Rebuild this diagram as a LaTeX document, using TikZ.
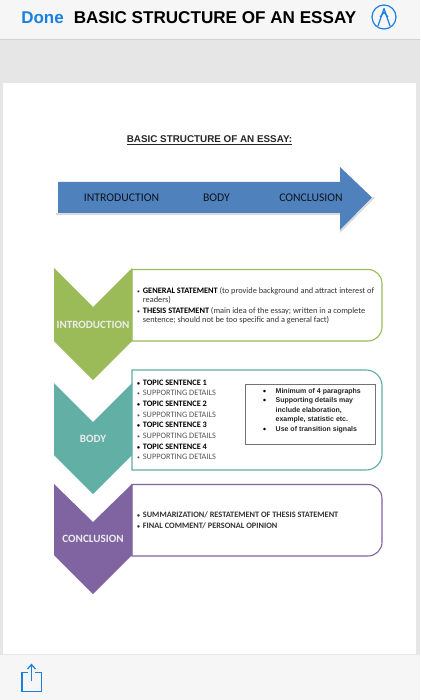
\documentclass[tikz,border=0pt]{standalone}
\usepackage{fontspec}
\setmainfont{Carlito}
\newfontfamily\arialf{Liberation Sans}
\usetikzlibrary{calc}
\definecolor{barbg}{HTML}{F6F6F7}
\definecolor{pagebg}{HTML}{E6E6E6}
\definecolor{iosblue}{HTML}{1B7FE0}
\definecolor{arrowblue}{HTML}{4F81BD}
\definecolor{introgreen}{HTML}{9BBB59}
\definecolor{bodyteal}{HTML}{62AFA5}
\definecolor{conpurple}{HTML}{8064A2}
\definecolor{bodytext}{HTML}{333333}
\definecolor{softtext}{HTML}{555555}
\tikzset{
  x=1pt,y=-1pt,
  lbl/.style={inner sep=0pt,anchor=center},
  arrowlbl/.style={lbl,font=\fontsize{11.7}{12}\selectfont,text=black!85!arrowblue},
  chevlbl/.style={lbl,font=\bfseries\fontsize{11.1}{12}\selectfont,text=white!92!black},
  listtxt/.style={inner sep=0pt,anchor=west,text=bodytext,font=\fontsize{8.33}{8.9}\selectfont},
  bodyrow/.style={inner sep=0pt,anchor=west,text=softtext,font=\fontsize{8.3}{8}\selectfont},
  bodyhead/.style={inner sep=0pt,anchor=west,text=black,font=\bfseries\fontsize{8.3}{8}\selectfont},
  conctxt/.style={inner sep=0pt,anchor=west,text=bodytext,font=\bfseries\fontsize{8.3}{8}\selectfont},
  notetxt/.style={inner sep=0pt,anchor=west,text=black!85,font=\arialf\bfseries\fontsize{7}{8}\selectfont},
  bullet/.style={inner sep=0pt,anchor=center,text=black,font=\fontsize{7}{8}\selectfont},
  roundbox/.style={line width=1.1pt,fill=white},
}
\newcommand{\dotb}{\makebox[5.7pt][l]{\scalebox{.7}{\textbullet}}}
\begin{document}
\begin{tikzpicture}
\useasboundingbox (0,0) rectangle (420,700);
% chrome
\fill[pagebg] (0,0) rectangle (420,700);
\fill[barbg] (0,0) rectangle (420,39);
\fill[black!18] (0,39) rectangle (420,39.7);
\fill[barbg] (0,655) rectangle (420,700);
\fill[white] (3,83) rectangle (416,654);
\node[lbl,text=iosblue,font=\arialf\bfseries\fontsize{17}{18}\selectfont] (done) at (42.5,17.5) {Done};
\node[lbl,text=black,font=\arialf\bfseries\fontsize{17.1}{18}\selectfont] (hdr) at (215,17.5) {BASIC STRUCTURE OF AN ESSAY};
\draw[iosblue,line width=1.2pt] (384,17) circle (12);
\draw[iosblue,line width=1.2pt,line join=round] (378,26) -- (384,8.5) -- (390,26);
\draw[iosblue,line width=1.2pt] (380,17) -- (384,12.5) -- (388,17);
% share icon
\draw[iosblue,line width=1.2pt] (28,672.5) -- (22,672.5) -- (22,691.5) -- (41.5,691.5) -- (41.5,672.5) -- (34.5,672.5);
\draw[iosblue,line width=1.2pt] (31.5,681) -- (31.5,665);
\draw[iosblue,line width=1.2pt] (27.5,669) -- (31.5,664.5) -- (35.5,669);
% title
\node[lbl,text=black!85,font=\arialf\bfseries\fontsize{9.85}{10}\selectfont] (title) at (209.5,139.5) {BASIC STRUCTURE OF AN ESSAY:};
\draw[black!85,line width=0.6pt] (127,144) -- (292,144);
% big arrow
\fill[black!14] (56,215) -- (340,215) -- (340,233) -- (375,197.5) -- (373,197) -- (340,230) -- (340,213) -- (56,213) -- cycle;
\fill[arrowblue] (58,182) -- (340,182) -- (340,167) -- (372,197.5) -- (340,230) -- (340,213) -- (58,213) -- cycle;
\node[arrowlbl] (a1) at (121.5,197.5) {INTRODUCTION};
\node[arrowlbl] (a2) at (216.5,197.5) {BODY};
\node[arrowlbl] (a3) at (311,197.5) {CONCLUSION};
% boxes
\draw[roundbox,draw=introgreen] (132,269.5) [rounded corners=14pt] -- (382,269.5) -- (382,341) [sharp corners] -- (132,341) -- cycle;
\draw[roundbox,draw=bodyteal] (132,370) [rounded corners=16pt] -- (382,370) -- (382,470) [sharp corners] -- (132,470) -- cycle;
\draw[roundbox,draw=conpurple] (132,484.5) [rounded corners=14pt] -- (382,484.5) -- (382,556) [sharp corners] -- (132,556) -- cycle;
% chevrons
\fill[introgreen] (54,268) -- (93,307) -- (132,268) -- (132,341) -- (93,380) -- (54,341) -- cycle;
\fill[bodyteal] (54,383) -- (93,422) -- (132,383) -- (132,455) -- (93,494) -- (54,455) -- cycle;
\fill[conpurple] (54,484) -- (93,522) -- (132,484) -- (132,555) -- (93,594) -- (54,555) -- cycle;
\node[chevlbl] (c1) at (93,325) {INTRODUCTION};
\node[chevlbl] (c2) at (93,439) {BODY};
\node[chevlbl] (c3) at (93,539) {CONCLUSION};
% intro text
\node[listtxt] (t1) at (137,291) {\dotb\textbf{\textcolor{black}{GENERAL STATEMENT}} (to provide background and attract interest of};
\node[listtxt] (t2) at (142.7,300) {readers)};
\node[listtxt] (t3) at (137,311.5) {\dotb\textbf{\textcolor{black}{THESIS STATEMENT}} (main idea of the essay; written in a complete};
\node[listtxt] (t4) at (142.7,320.5) {sentence; should not be too specific and a general fact)};
% body list
\node[bodyhead] (b1) at (137,382.5) {\dotb TOPIC SENTENCE 1};
\node[bodyrow]  (b2) at (137,393.2) {\dotb SUPPORTING DETAILS};
\node[bodyhead] (b3) at (137,403.8) {\dotb TOPIC SENTENCE 2};
\node[bodyrow]  (b4) at (137,414.5) {\dotb SUPPORTING DETAILS};
\node[bodyhead] (b5) at (137,425.1) {\dotb TOPIC SENTENCE 3};
\node[bodyrow]  (b6) at (137,435.8) {\dotb SUPPORTING DETAILS};
\node[bodyhead] (b7) at (137,446.4) {\dotb TOPIC SENTENCE 4};
\node[bodyrow]  (b8) at (137,457) {\dotb SUPPORTING DETAILS};
% note box
\node[draw=black!55,line width=0.7pt,minimum width=130pt,minimum height=60pt,inner sep=0pt,anchor=north west] (note) at (245,384) {};
\node[bullet] (n0) at (264.5,391.5) {\textbullet};
\node[notetxt] (n1) at (275.5,391.5) {Minimum of 4 paragraphs};
\node[bullet] (n2) at (264.5,401) {\textbullet};
\node[notetxt] (n3) at (275.5,401) {Supporting details may};
\node[notetxt] (n4) at (275.5,410.5) {include elaboration,};
\node[notetxt] (n5) at (275.5,420) {example, statistic etc.};
\node[bullet] (n6) at (264.5,429.5) {\textbullet};
\node[notetxt] (n7) at (275.5,429.5) {Use of transition signals};
% conclusion text
\node[conctxt] (e1) at (137,514.5) {\dotb SUMMARIZATION/ RESTATEMENT OF THESIS STATEMENT};
\node[conctxt] (e2) at (137,525.5) {\dotb FINAL COMMENT/ PERSONAL OPINION};
\end{tikzpicture}
\end{document}
